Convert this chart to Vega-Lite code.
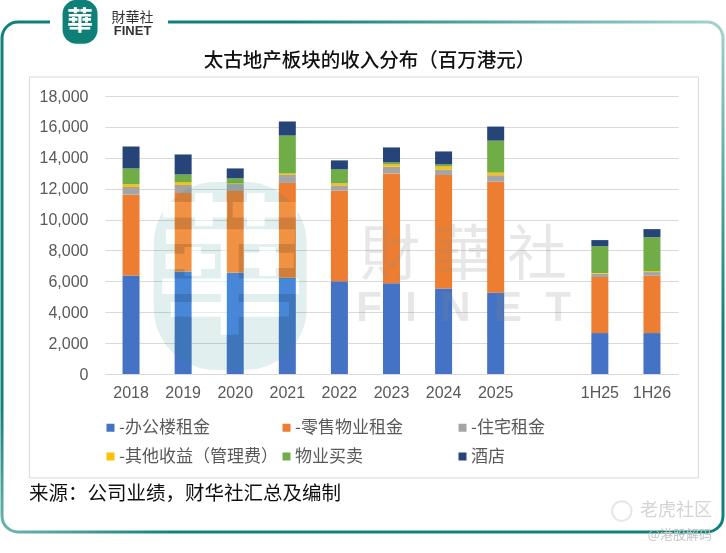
{
  "$schema": "https://vega.github.io/schema/vega-lite/v6.json",
  "width": 721,
  "height": 510,
  "autosize": "none",
  "padding": {"left": 2, "top": 22, "right": 3, "bottom": 21},
  "background": "white",
  "config": {
    "font": "Liberation Sans",
    "view": {
      "stroke": {"gradient": "linear", "x1": 0, "y1": 1, "x2": 1, "y2": 0, "stops": [
        {"offset": 0, "color": "#6fb5b0"},
        {"offset": 0.12, "color": "#12807a"},
        {"offset": 0.7, "color": "#12807a"},
        {"offset": 1, "color": "#a5d3cf"}
      ]},
      "strokeWidth": 3,
      "cornerRadius": 16
    }
  },
  "datasets": {
    "revenue": [
      {"period": "2018", "series": "-办公楼租金", "k": 1, "value": 6370},
      {"period": "2018", "series": "-零售物业租金", "k": 2, "value": 5240},
      {"period": "2018", "series": "-住宅租金", "k": 3, "value": 500},
      {"period": "2018", "series": "-其他收益（管理费）", "k": 4, "value": 170},
      {"period": "2018", "series": "物业买卖", "k": 5, "value": 1030},
      {"period": "2018", "series": "酒店", "k": 6, "value": 1420},
      {"period": "2019", "series": "-办公楼租金", "k": 1, "value": 6630},
      {"period": "2019", "series": "-零售物业租金", "k": 2, "value": 5090},
      {"period": "2019", "series": "-住宅租金", "k": 3, "value": 520},
      {"period": "2019", "series": "-其他收益（管理费）", "k": 4, "value": 170},
      {"period": "2019", "series": "物业买卖", "k": 5, "value": 510},
      {"period": "2019", "series": "酒店", "k": 6, "value": 1295},
      {"period": "2020", "series": "-办公楼租金", "k": 1, "value": 6550},
      {"period": "2020", "series": "-零售物业租金", "k": 2, "value": 5300},
      {"period": "2020", "series": "-住宅租金", "k": 3, "value": 450},
      {"period": "2020", "series": "-其他收益（管理费）", "k": 4, "value": 45},
      {"period": "2020", "series": "物业买卖", "k": 5, "value": 325},
      {"period": "2020", "series": "酒店", "k": 6, "value": 640},
      {"period": "2021", "series": "-办公楼租金", "k": 1, "value": 6230},
      {"period": "2021", "series": "-零售物业租金", "k": 2, "value": 6140},
      {"period": "2021", "series": "-住宅租金", "k": 3, "value": 520},
      {"period": "2021", "series": "-其他收益（管理费）", "k": 4, "value": 90},
      {"period": "2021", "series": "物业买卖", "k": 5, "value": 2460},
      {"period": "2021", "series": "酒店", "k": 6, "value": 910},
      {"period": "2022", "series": "-办公楼租金", "k": 1, "value": 6000},
      {"period": "2022", "series": "-零售物业租金", "k": 2, "value": 5870},
      {"period": "2022", "series": "-住宅租金", "k": 3, "value": 345},
      {"period": "2022", "series": "-其他收益（管理费）", "k": 4, "value": 130},
      {"period": "2022", "series": "物业买卖", "k": 5, "value": 905},
      {"period": "2022", "series": "酒店", "k": 6, "value": 580},
      {"period": "2023", "series": "-办公楼租金", "k": 1, "value": 5870},
      {"period": "2023", "series": "-零售物业租金", "k": 2, "value": 7120},
      {"period": "2023", "series": "-住宅租金", "k": 3, "value": 425},
      {"period": "2023", "series": "-其他收益（管理费）", "k": 4, "value": 150},
      {"period": "2023", "series": "物业买卖", "k": 5, "value": 135},
      {"period": "2023", "series": "酒店", "k": 6, "value": 970},
      {"period": "2024", "series": "-办公楼租金", "k": 1, "value": 5540},
      {"period": "2024", "series": "-零售物业租金", "k": 2, "value": 7340},
      {"period": "2024", "series": "-住宅租金", "k": 3, "value": 365},
      {"period": "2024", "series": "-其他收益（管理费）", "k": 4, "value": 195},
      {"period": "2024", "series": "物业买卖", "k": 5, "value": 130},
      {"period": "2024", "series": "酒店", "k": 6, "value": 840},
      {"period": "2025", "series": "-办公楼租金", "k": 1, "value": 5260},
      {"period": "2025", "series": "-零售物业租金", "k": 2, "value": 7190},
      {"period": "2025", "series": "-住宅租金", "k": 3, "value": 420},
      {"period": "2025", "series": "-其他收益（管理费）", "k": 4, "value": 170},
      {"period": "2025", "series": "物业买卖", "k": 5, "value": 2070},
      {"period": "2025", "series": "酒店", "k": 6, "value": 910},
      {"period": "1H25", "series": "-办公楼租金", "k": 1, "value": 2650},
      {"period": "1H25", "series": "-零售物业租金", "k": 2, "value": 3630},
      {"period": "1H25", "series": "-住宅租金", "k": 3, "value": 215},
      {"period": "1H25", "series": "-其他收益（管理费）", "k": 4, "value": 40},
      {"period": "1H25", "series": "物业买卖", "k": 5, "value": 1745},
      {"period": "1H25", "series": "酒店", "k": 6, "value": 390},
      {"period": "1H26", "series": "-办公楼租金", "k": 1, "value": 2650},
      {"period": "1H26", "series": "-零售物业租金", "k": 2, "value": 3710},
      {"period": "1H26", "series": "-住宅租金", "k": 3, "value": 240},
      {"period": "1H26", "series": "-其他收益（管理费）", "k": 4, "value": 60},
      {"period": "1H26", "series": "物业买卖", "k": 5, "value": 2200},
      {"period": "1H26", "series": "酒店", "k": 6, "value": 520}
    ]
  },
  "title": {
    "text": "太古地产板块的收入分布（百万港元）",
    "font": "Noto Sans CJK SC",
    "fontSize": 19.5,
    "fontWeight": 500,
    "color": "#111111",
    "anchor": "middle",
    "dx": 7,
    "offset": -72
  },
  "layer": [
    {
      "data": {"name": "revenue"},
      "mark": {"type": "bar", "width": 17},
      "encoding": {
        "x": {
          "field": "period",
          "type": "nominal",
          "title": null,
          "sort": ["2018", "2019", "2020", "2021", "2022", "2023", "2024", "2025", " ", "1H25", "1H26"],
          "scale": {
            "domain": ["2018", "2019", "2020", "2021", "2022", "2023", "2024", "2025", " ", "1H25", "1H26"],
            "range": [103, 676],
            "paddingInner": 0,
            "paddingOuter": 0
          },
          "axis": {
            "offset": -158,
            "labelAngle": 0,
            "labelFontSize": 16,
            "labelColor": "#595959",
            "labelPadding": 10,
            "ticks": false,
            "domainColor": "#d9d9d9",
            "grid": false
          }
        },
        "y": {
          "field": "value",
          "type": "quantitative",
          "aggregate": "sum",
          "title": null,
          "stack": "zero",
          "scale": {"domain": [0, 18000], "range": [352, 74], "nice": false},
          "axis": {
            "offset": -103,
            "values": [0, 2000, 4000, 6000, 8000, 10000, 12000, 14000, 16000, 18000],
            "format": ",.0f",
            "labelFontSize": 16,
            "labelColor": "#595959",
            "labelPadding": 17,
            "ticks": false,
            "domain": false,
            "gridColor": "#d9d9d9"
          }
        },
        "order": {"field": "k", "type": "quantitative", "aggregate": "min"},
        "color": {
          "field": "series",
          "type": "nominal",
          "sort": ["-办公楼租金", "-零售物业租金", "-住宅租金", "-其他收益（管理费）", "物业买卖", "酒店"],
          "scale": {
            "domain": ["-办公楼租金", "-零售物业租金", "-住宅租金", "-其他收益（管理费）", "物业买卖", "酒店"],
            "range": ["#4472c4", "#ed7d31", "#a5a5a5", "#ffc000", "#70ad47", "#264478"]
          },
          "legend": {
            "title": null,
            "orient": "none",
            "legendX": 100,
            "legendY": 397,
            "columns": 3,
            "direction": "horizontal",
            "symbolType": "square",
            "symbolSize": 64,
            "symbolStrokeWidth": 0,
            "labelFont": "Noto Sans CJK SC",
            "labelFontSize": 17,
            "labelColor": "#595959",
            "labelOffset": 0,
            "labelLimit": 170,
            "rowPadding": 11,
            "columnPadding": -2,
            "gridAlign": "all"
          }
        }
      }
    },
    {
      "mark": {"type": "rect", "width": 669, "height": 401, "xOffset": 24.5, "fill": "transparent", "stroke": "#d9d9d9", "strokeWidth": 1},
      "data": {"values": [{"label": "box"}]},
      "encoding": {
        "x": {"datum": "2022", "type": "nominal"},
        "y": {"datum": 6250, "type": "quantitative"}
      }
    },
    {
      "mark": {"type": "rect", "width": 153, "height": 188, "xOffset": -5, "cornerRadius": 62, "color": "#1a8a82", "opacity": 0.13},
      "data": {"values": [{"label": "watermark"}]},
      "encoding": {
        "x": {"datum": "2020", "type": "nominal"},
        "y": {"datum": 6350, "type": "quantitative"}
      }
    },
    {
      "mark": {"type": "text", "font": "Noto Sans CJK TC", "fontWeight": "bold", "fontSize": 150, "color": "#222222", "blend": "color-dodge", "dx": -5},
      "data": {"values": [{"label": "華"}]},
      "encoding": {
        "text": {"field": "label"},
        "x": {"datum": "2020", "type": "nominal"},
        "y": {"datum": 6350, "type": "quantitative"}
      }
    },
    {
      "mark": {"type": "text", "font": "Noto Sans CJK TC", "fontSize": 60, "color": "#8c8c8c", "opacity": 0.2, "dx": 20},
      "data": {"values": [{"label": "財 華 社"}]},
      "encoding": {
        "text": {"field": "label"},
        "x": {"datum": "2024", "type": "nominal"},
        "y": {"datum": 7550, "type": "quantitative"}
      }
    },
    {
      "mark": {"type": "text", "font": "Liberation Sans", "fontWeight": "bold", "fontSize": 42, "color": "#8c8c8c", "opacity": 0.2, "dx": 20},
      "data": {"values": [{"label": "F\u00a0\u00a0I\u00a0\u00a0N\u00a0\u00a0E\u00a0\u00a0T"}]},
      "encoding": {
        "text": {"field": "label"},
        "x": {"datum": "2024", "type": "nominal"},
        "y": {"datum": 4275, "type": "quantitative"}
      }
    },
    {
      "mark": {"type": "text", "font": "Noto Sans CJK SC", "fontSize": 19.5, "color": "#111111", "align": "left", "dx": -102},
      "data": {"values": [{"label": "来源：公司业绩，财华社汇总及编制"}]},
      "encoding": {
        "text": {"field": "label"},
        "x": {"datum": "2018", "type": "nominal"},
        "y": {"datum": -7800, "type": "quantitative"}
      }
    },
    {
      "mark": {"type": "rect", "width": 118, "height": 16, "xOffset": -22, "color": "white"},
      "data": {"values": [{"label": "gap"}]},
      "encoding": {
        "x": {"datum": "2018", "type": "nominal"},
        "y": {"datum": 22800, "type": "quantitative"}
      }
    },
    {
      "mark": {"type": "rect", "width": 35, "height": 44, "xOffset": -51, "cornerRadius": 14, "color": "#0f8078"},
      "data": {"values": [{"label": "logo"}]},
      "encoding": {
        "x": {"datum": "2018", "type": "nominal"},
        "y": {"datum": 22800, "type": "quantitative"}
      }
    },
    {
      "mark": {"type": "text", "font": "Noto Sans CJK TC", "fontWeight": "bold", "fontSize": 26, "color": "white", "dx": -51},
      "data": {"values": [{"label": "華"}]},
      "encoding": {
        "text": {"field": "label"},
        "x": {"datum": "2018", "type": "nominal"},
        "y": {"datum": 22800, "type": "quantitative"}
      }
    },
    {
      "mark": {"type": "text", "font": "Noto Sans CJK TC", "fontSize": 14, "color": "#333333", "dx": 1.5},
      "data": {"values": [{"label": "財華社"}]},
      "encoding": {
        "text": {"field": "label"},
        "x": {"datum": "2018", "type": "nominal"},
        "y": {"datum": 23050, "type": "quantitative"}
      }
    },
    {
      "mark": {"type": "text", "font": "Liberation Sans", "fontWeight": "bold", "fontSize": 13, "color": "#333333", "dx": 1.5},
      "data": {"values": [{"label": "FINET"}]},
      "encoding": {
        "text": {"field": "label"},
        "x": {"datum": "2018", "type": "nominal"},
        "y": {"datum": 22200, "type": "quantitative"}
      }
    },
    {
      "mark": {"type": "point", "shape": "circle", "size": 380, "filled": false, "stroke": "#dcdcdc", "strokeWidth": 2},
      "data": {"values": [{"label": "icon"}]},
      "encoding": {
        "x": {"datum": "1H25", "type": "nominal", "bandPosition": 0.92},
        "y": {"datum": -8870, "type": "quantitative"}
      }
    },
    {
      "mark": {"type": "text", "font": "Noto Sans CJK SC", "fontSize": 18, "color": "#d4d4d4", "dx": 24},
      "data": {"values": [{"label": "老虎社区"}]},
      "encoding": {
        "text": {"field": "label"},
        "x": {"datum": "1H26", "type": "nominal"},
        "y": {"datum": -8870, "type": "quantitative"}
      }
    },
    {
      "mark": {"type": "text", "font": "Noto Sans CJK SC", "fontSize": 13, "color": "#c4c4c4", "dx": 28},
      "data": {"values": [{"label": "@港股解码"}]},
      "encoding": {
        "text": {"field": "label"},
        "x": {"datum": "1H26", "type": "nominal"},
        "y": {"datum": -10430, "type": "quantitative"}
      }
    }
  ]
}
